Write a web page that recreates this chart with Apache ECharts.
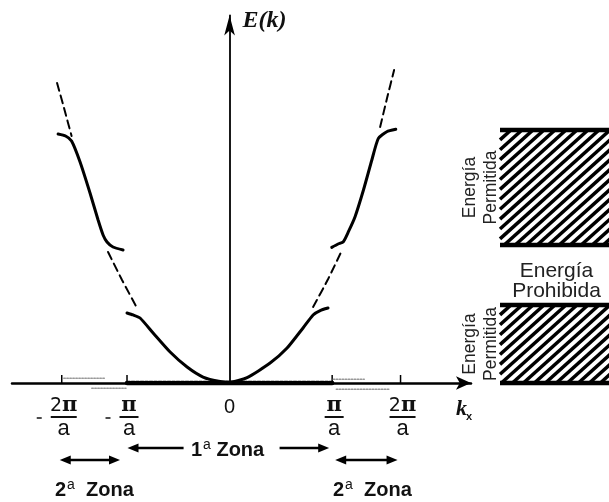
<!DOCTYPE html>
<html>
<head>
<meta charset="utf-8">
<script src="https://cdn.jsdelivr.net/npm/echarts@6/dist/echarts.min.js"></script>
<style>
html, body { margin: 0; padding: 0; background: #fff; }
#chart { width: 609px; height: 502px; }
</style>
</head>
<body>
<div id="chart"></div>
<script>
// zone boundaries, k in units of pi/a (where the drawing puts them)
var tickK = [-1.62, -0.99, 0, 0.99, 1.65];
var tickNum = ['2π', 'π', '0', 'π', '2π'];
var tickSign = ['-', '-', '', '', ''];

// first band (solid), [k, E]
var band1 = [[-0.99, 0.667], [-0.931, 0.648], [-0.864, 0.619], [-0.738, 0.476], [-0.574, 0.295],
  [-0.41, 0.152], [-0.256, 0.057], [-0.092, 0.014], [0, 0.008], [0.169, 0.052], [0.391, 0.19],
  [0.555, 0.333], [0.709, 0.524], [0.806, 0.648], [0.874, 0.69], [0.95, 0.714]];
// second band, left and right pieces
var band2Left = [[-1.655, 2.371], [-1.583, 2.352], [-1.525, 2.305], [-1.443, 2.105], [-1.347, 1.81],
  [-1.269, 1.552], [-1.221, 1.41], [-1.183, 1.343], [-1.125, 1.295], [-1.028, 1.267]];
var band2Right = [[0.986, 1.292], [1.047, 1.324], [1.098, 1.346], [1.147, 1.441], [1.211, 1.584],
  [1.292, 1.838], [1.373, 2.124], [1.436, 2.33], [1.517, 2.393], [1.604, 2.416]];
// free electron parabola (dashed pieces)
var freeLeftTop = [[-1.665, 2.857], [-1.598, 2.619], [-1.525, 2.352]];
var freeLeftMid = [[-1.173, 1.248], [-1.038, 0.981], [-0.893, 0.714]];
var freeRightMid = [[0.806, 0.724], [0.951, 0.99], [1.086, 1.267]];
var freeRightTop = [[1.453, 2.438], [1.52, 2.714], [1.588, 2.981]];
// faint dotted traces along the axis in the 2nd zone
var dotLeftUp = [[-1.6, 0.045], [-1.2, 0.045]];
var dotLeftDown = [[-1.33, -0.05], [-1.0, -0.05]];
var dotRightUp = [[1.0, 0.035], [1.3, 0.035]];
var dotRightDown = [[1.03, -0.06], [1.55, -0.06]];

// allowed energy bands (right panel)
var bandBottom = [0, 1.314];
var bandTop = [0.743, 2.41];

var chart = echarts.init(document.getElementById('chart'));

function lineSeries(data, width, type, color, smooth) {
    return {
        type: 'line', xAxisIndex: 0, yAxisIndex: 0, data: data,
        symbol: 'none', smooth: smooth === undefined ? 0.2 : smooth, clip: false, silent: true,
        lineStyle: { color: color || '#000', width: width, type: type || 'solid', cap: 'round' }
    };
}

var option = {
    animation: false,
    backgroundColor: '#fff',
    grid: [
        { left: 12, right: 138, top: 15.5, bottom: 119 },
        { left: 500, right: 0, top: 15.5, bottom: 119 }
    ],
    xAxis: [
        {
            gridIndex: 0, type: 'value', min: -2.1, max: 2.33,
            axisLine: { show: true, onZero: true, symbol: ['none', 'arrow'], symbolSize: [10, 15],
                lineStyle: { color: '#000', width: 2.5 } },
            axisTick: { show: false }, axisLabel: { show: false }, splitLine: { show: false }
        },
        { gridIndex: 1, type: 'value', min: 0, max: 1, show: false }
    ],
    yAxis: [
        {
            gridIndex: 0, type: 'value', min: 0, max: 3.5,
            axisLine: { show: true, onZero: true, symbol: ['none', 'arrow'], symbolSize: [8, 20],
                lineStyle: { color: '#000', width: 1.8 } },
            axisTick: { show: false }, axisLabel: { show: false }, splitLine: { show: false }
        },
        { gridIndex: 1, type: 'value', min: 0, max: 3.5, show: false }
    ],
    series: [
        lineSeries([[tickK[1], 0], [tickK[3], 0]], 4.5, [3, 1.5], '#000', false),
        lineSeries(dotLeftUp, 1.5, 'dotted', '#999', false),
        lineSeries(dotLeftDown, 1.5, 'dotted', '#999', false),
        lineSeries(dotRightUp, 1.5, 'dotted', '#999', false),
        lineSeries(dotRightDown, 1.5, 'dotted', '#999', false),
        lineSeries(band1, 3),
        lineSeries(band2Left, 3),
        lineSeries(band2Right, 3),
        lineSeries(freeLeftTop, 2, [8, 5]),
        lineSeries(freeLeftMid, 2, [8, 5]),
        lineSeries(freeRightMid, 2, [8, 5]),
        lineSeries(freeRightTop, 2, [8, 5]),
        {
            // hatched allowed-energy boxes
            type: 'custom', xAxisIndex: 1, yAxisIndex: 1, silent: true,
            data: bandBottom.map(function (b, i) { return [b, bandTop[i]]; }),
            renderItem: function (params, api) {
                var p0 = api.coord([0, api.value(1)]);
                var p1 = api.coord([1, api.value(0)]);
                var x0 = p0[0], y0 = p0[1], x1 = p1[0] + 10, y1 = p1[1];
                var w = x1 - x0, h = y1 - y0;
                var th = 42 * Math.PI / 180, cs = Math.cos(th), sn = Math.sin(th);
                var kids = [];
                for (var c = -h * cs / sn; c < w; c += 11) {
                    var t0 = Math.max(0, -c / cs), t1 = Math.min(h / sn, (w - c) / cs);
                    if (t1 <= t0) continue;
                    kids.push({ type: 'line',
                        shape: { x1: x0 + c + t0 * cs, y1: y1 - t0 * sn, x2: x0 + c + t1 * cs, y2: y1 - t1 * sn },
                        style: { stroke: '#000', lineWidth: 3.5 } });
                }
                kids.push({ type: 'line', shape: { x1: x0, y1: y0, x2: x1, y2: y0 }, style: { stroke: '#000', lineWidth: 4.5 } });
                kids.push({ type: 'line', shape: { x1: x0, y1: y1, x2: x1, y2: y1 }, style: { stroke: '#000', lineWidth: 4.5 } });
                kids.push({ type: 'text', x: x0 - 19, y: (y0 + y1) / 2, rotation: Math.PI / 2,
                    style: { text: 'Energía\nPermitida', fill: '#222', font: '17.5px "Liberation Sans", Arial',
                        align: 'center', verticalAlign: 'middle', lineHeight: 21 } });
                return { type: 'group', children: kids };
            }
        }
    ]
};
chart.setOption(option);

// annotations below the k axis, anchored on the tick positions
var ax = tickK.map(function (k) { return chart.convertToPixel({ xAxisIndex: 0, yAxisIndex: 0 }, [k, 0])[0]; });
var y0 = chart.convertToPixel({ xAxisIndex: 0, yAxisIndex: 0 }, [0, 0])[1];
var yTop = chart.convertToPixel({ xAxisIndex: 0, yAxisIndex: 0 }, [0, 3.5])[1];
var gap = chart.convertToPixel({ xAxisIndex: 1, yAxisIndex: 1 }, [0.5, (bandTop[0] + bandBottom[1]) / 2]);

var g = [];
function head(xTip, y, dir) {
    return { type: 'polygon', shape: { points: [[xTip, y], [xTip - dir * 11, y - 4.5], [xTip - dir * 11, y + 4.5]] },
        style: { fill: '#000' } };
}
function shaft(xa, xb, y) {
    return { type: 'line', shape: { x1: xa, y1: y, x2: xb, y2: y }, style: { stroke: '#000', lineWidth: 2.5 } };
}

tickK.forEach(function (k, i) {
    var x = ax[i];
    if (tickNum[i] === '0') {
        g.push({ type: 'text', x: x, y: y0 + 24, style: { text: '0', fill: '#111', font: '20px "Liberation Sans"',
            align: 'center', verticalAlign: 'middle' } });
        return;
    }
    g.push({ type: 'line', shape: { x1: x, y1: y0 - 8, x2: x, y2: y0 }, style: { stroke: '#000', lineWidth: 1.5 } });
    var cx = x + 2;
    var half = tickNum[i].length > 1 ? 13 : 9.5;
    g.push({ type: 'text', x: cx, y: y0 + 23, style: {
        text: tickNum[i].length > 1 ? '{n|2}{p|π}' : '{p|π}', align: 'center', verticalAlign: 'middle',
        rich: { n: { font: '19px "DejaVu Sans"', fill: '#111' },
                p: { font: 'bold 21px "DejaVu Serif"', fill: '#111' } } } });
    g.push({ type: 'line', shape: { x1: cx - half, y1: y0 + 34, x2: cx + half, y2: y0 + 34 },
        style: { stroke: '#111', lineWidth: 2 } });
    g.push({ type: 'text', x: cx, y: y0 + 46, style: { text: 'a', fill: '#111', font: '22px "Liberation Sans"',
        align: 'center', verticalAlign: 'middle' } });
    if (tickSign[i]) {
        g.push({ type: 'line', shape: { x1: cx - half - 14, y1: y0 + 35, x2: cx - half - 9, y2: y0 + 35 },
            style: { stroke: '#111', lineWidth: 1.5 } });
    }
});

// 1a zona
var yz = y0 + 65;
g.push(shaft(ax[1] + 8, ax[2] - 46, yz), head(ax[1] + 0.5, yz, -1));
g.push(shaft(ax[2] + 50, ax[3] - 12, yz), head(ax[3] - 3, yz, 1));
g.push({ type: 'text', x: ax[2] - 2, y: y0 + 67, style: {
    text: '{b|1}{s|a}{b| Zona}', align: 'center', verticalAlign: 'middle',
    rich: { b: { font: 'bold 20px "Liberation Sans"', fill: '#111' },
            s: { font: '14px "Liberation Sans"', fill: '#111', verticalAlign: 'top', padding: [0, 0, 10, 1] } } } });

// 2a zona
var y2 = y0 + 77;
[[ax[0] - 2, ax[1] - 7], [ax[3] + 3, ax[4] - 3]].forEach(function (s) {
    g.push(shaft(s[0] + 8, s[1] - 8, y2), head(s[0], y2, -1), head(s[1], y2, 1));
});
[(ax[0] + ax[1]) / 2, (ax[3] + ax[4]) / 2 + 6].forEach(function (x) {
    g.push({ type: 'text', x: x, y: y0 + 107, style: {
        text: '{b|2}{s|a}{b|  Zona}', align: 'center', verticalAlign: 'middle',
        rich: { b: { font: 'bold 20px "Liberation Sans"', fill: '#111' },
                s: { font: '14px "Liberation Sans"', fill: '#111', verticalAlign: 'top', padding: [0, 0, 10, 1] } } } });
});

// axis titles
g.push({ type: 'text', x: ax[2] + 13, y: yTop + 5, style: { text: 'E(k)', fill: '#111',
    font: 'italic bold 24px "Liberation Serif"', align: 'left', verticalAlign: 'middle' } });
g.push({ type: 'text', x: 456, y: y0 + 26, style: { text: 'k', fill: '#111',
    font: 'italic bold 22px "Liberation Serif"', align: 'left', verticalAlign: 'middle' } });
g.push({ type: 'text', x: 466, y: y0 + 34, style: { text: 'x', fill: '#111',
    font: 'bold 11px "Liberation Sans"', align: 'left', verticalAlign: 'middle' } });

// forbidden gap label
g.push({ type: 'text', x: gap[0] + 2, y: gap[1] + 6, style: { text: 'Energía\nProhibida', fill: '#222',
    font: '21px "Liberation Sans"', align: 'center', verticalAlign: 'middle', lineHeight: 20 } });

chart.setOption({ graphic: g });
</script>
</body>
</html>
